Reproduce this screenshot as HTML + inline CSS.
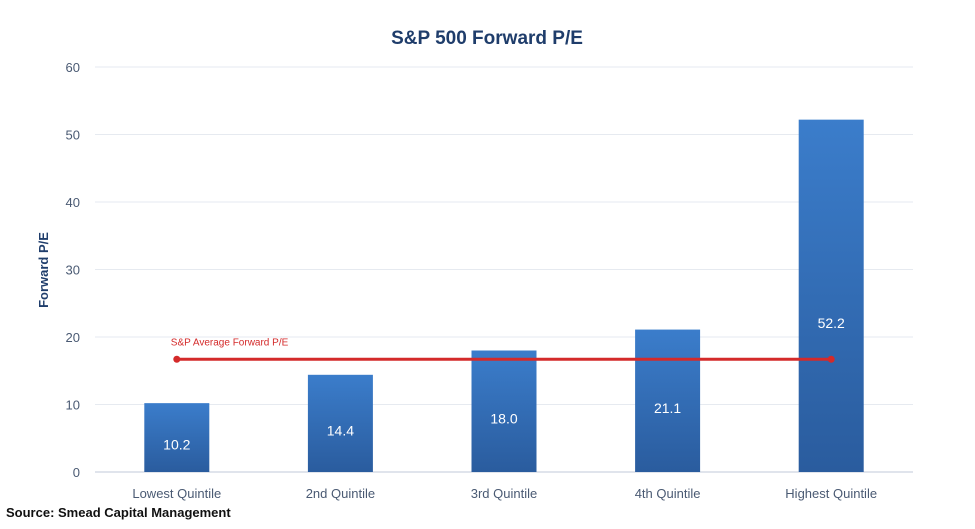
<!DOCTYPE html>
<html><head><meta charset="utf-8"><style>
html,body{margin:0;padding:0;background:#fff;}
svg{display:block;font-family:"Liberation Sans",sans-serif;}
</style></head><body>
<svg id="chart" width="975" height="529" viewBox="0 0 975 529">
<defs>
<linearGradient id="bg" x1="0" y1="0" x2="0" y2="1">
<stop offset="0" stop-color="#3b7dcb"/><stop offset="1" stop-color="#2a5c9e"/>
</linearGradient>
</defs>
<text x="487" y="44" text-anchor="middle" font-size="19" font-weight="bold" fill="#1f3d6b">S&amp;P 500 Forward P/E</text>
<text transform="translate(48,270) rotate(-90)" text-anchor="middle" font-size="13" font-weight="bold" fill="#1f3d6b">Forward P/E</text>
<g id="grid"></g><g id="bars"></g><g id="avg"></g>
<text x="6" y="517" font-size="13" font-weight="bold" fill="#111">Source: Smead Capital Management</text>
</svg>
<script>
const categories=["Lowest Quintile","2nd Quintile","3rd Quintile","4th Quintile","Highest Quintile"];
const values=[10.2,14.4,18.0,21.1,52.2];
const valueLabels=["10.2","14.4","18.0","21.1","52.2"];
const yTicks=[0,10,20,30,40,50,60];
const avgValue=[16.7];
const avgLabel=["S&P Average Forward P/E"];
const NS="http://www.w3.org/2000/svg";
const x0=95,x1=913,yb=472,yt=67,ymax=60;
const y=v=>yb-(v/ymax)*(yb-yt);
const band=(x1-x0)/categories.length;
const xc=i=>x0+band*(i+0.5);
function mk(p,t,a){const e=document.createElementNS(NS,t);for(const k in a)e.setAttribute(k,a[k]);p.appendChild(e);return e;}
const g=document.getElementById('grid');
yTicks.forEach(t=>{
 const l=mk(g,'line',{x1:x0,x2:x1,y1:y(t),y2:y(t),stroke:t===0?'#d6dce6':'#e6eaf0','stroke-width':t===0?1.5:1});
 
 
 const tx=mk(g,'text',{x:80,y:y(t)+5,'text-anchor':'end','font-size':13,fill:'#4a5a73'});
 tx.textContent=t;
 
 
});
const b=document.getElementById('bars');
const bw=65;
values.forEach((v,i)=>{
 const r=mk(b,'rect',{x:xc(i)-bw/2,y:y(v),width:bw,height:yb-y(v),fill:'url(#bg)'});
 
 
 const h=yb-y(v);
 const ly=(y(v)+yb)/2+12+Math.max(0,h-150)*0.1;
 const t=mk(b,'text',{x:xc(i),y:ly,'text-anchor':'middle','font-size':14,fill:'#fff'});
 t.textContent=valueLabels[i];
 
 
 const c=mk(b,'text',{x:xc(i),y:498,'text-anchor':'middle','font-size':13,fill:'#4a5a73'});
 c.textContent=categories[i];
 
 
});
const a=document.getElementById('avg');
const ay=y(avgValue[0]);
const al=mk(a,'line',{x1:xc(0),x2:xc(4),y1:ay,y2:ay,stroke:'#d42a2a','stroke-width':3});


[0,4].forEach(i=>{
 const d=mk(a,'circle',{cx:xc(i),cy:ay,r:3.5,fill:'#d42a2a'});
 
 
});
const at=mk(a,'text',{x:xc(0)-6,y:ay-14,'font-size':10,fill:'#d42a2a'});
at.textContent=avgLabel[0];


</script>
</body></html>
